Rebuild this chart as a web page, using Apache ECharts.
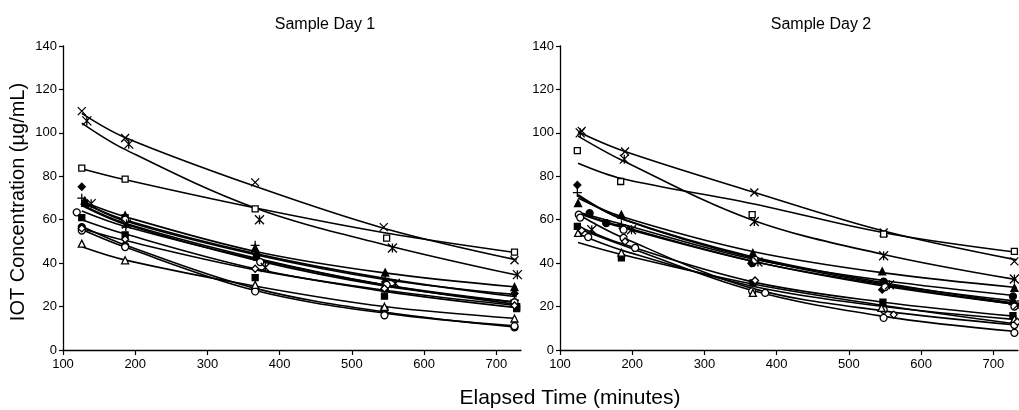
<!DOCTYPE html>
<html>
<head>
<meta charset="utf-8">
<script src="https://cdn.jsdelivr.net/npm/echarts@6/dist/echarts.min.js"></script>
<style>
html,body{margin:0;padding:0;background:#fff;}
#chart{width:1019px;height:410px;}
</style>
</head>
<body>
<div id="chart"></div>
<script>
// ---------- tick labels ----------
const X_TICKS = [100, 200, 300, 400, 500, 600, 700];
const Y_TICKS = [0, 20, 40, 60, 80, 100, 120, 140];

// ---------- fitted-curve sample times (minutes) ----------
const D1_FIT_T = [126, 185, 365, 545, 728];
const D2_FIT_T = [125, 185, 365, 548, 732];

// ---------- Sample Day 1: observed points [minutes, µg/mL] and fitted curve values ----------
const d1Cross = [[126,110],[186,97.6],[366,77.2],[544,56.6],[725,41.3]];
const d1CrossFit = [109, 98, 75.5, 56, 41.5];
const d1Star = [[133,105.5],[191,94.8],[372,60],[556,47],[729,34.7]];
const d1StarFit = [104.5, 92.5, 65.5, 48.5, 34.5];
const d1OpenSq = [[126,83.8],[186,78.7],[366,65],[548,51.5],[725,45.1]];
const d1OpenSqFit = [83.5, 78.5, 65.5, 54, 44.8];
const d1FillTri = [[130,68.8],[186,62],[366,47],[546,35.7],[725,29]];
const d1FillTriFit = [68.5, 61.5, 45.5, 35.5, 29];
const d1Plus = [[126,69.9],[187,56.6],[366,48.2],[546,33],[725,23]];
const d1PlusFit = [68, 60, 44.5, 33, 24.5];
const d1FillDia = [[126,75.2],[186,59],[368,44],[546,31.3],[725,26]];
const d1FillDiaFit = [68.5, 59.5, 44, 32.5, 25.5];
const d1FillSqA = [[130,67.5],[186,61],[368,42.8],[546,28.3],[728,20]];
const d1FillSqAFit = [67, 58.5, 42.5, 30, 21];
const d1OpenCirA = [[119,63.4],[186,60],[373,40.5],[548,30],[725,22]];
const d1OpenCirAFit = [64, 57, 42, 30, 22];
const d1FillSqB = [[126,61],[186,53],[366,33.3],[545,24.8],[728,19.1]];
const d1FillSqBFit = [60, 53.5, 37.5, 27, 19.5];
const d1StarB = [[139,67.4],[188,58],[380,38],[560,30.6],[737,22.9]];
const d1StarBFit = [66.5, 58, 41.5, 29.5, 22];
const d1FillCir = [[126,56.6],[186,48],[366,27.8],[545,18.7],[725,10.4]];
const d1FillCirFit = [57, 48.5, 28.5, 17.5, 10.5];
const d1OpenCirB = [[126,55],[186,47.4],[366,27],[545,16],[725,11]];
const d1OpenCirBFit = [55.5, 47.5, 27.5, 17, 11];
const d1OpenTri = [[126,49],[186,41.3],[366,30],[545,19.9],[725,14.5]];
const d1OpenTriFit = [47.5, 41.5, 29.5, 20, 14.5];
const d1OpenDia = [[126,56],[186,51],[366,37.4],[545,28.3],[725,20.5]];
const d1OpenDiaFit = [56, 50.5, 37, 27.5, 20.5];

// ---------- Sample Day 2 ----------
const d2Cross = [[130,100.9],[190,91.4],[369,72.5],[548,54.1],[729,40.8]];
const d2CrossFit = [100.5, 92, 73, 54.8, 41.5];
const d2Star = [[128,100],[189,87.9],[369,59.2],[548,43.4],[729,32.7]];
const d2StarFit = [98.5, 87.5, 60, 44, 32.4];
const d2OpenSq = [[124,91.8],[184,77.6],[366,62.3],[548,53.4],[729,45.4]];
const d2OpenSqFit = [86, 79, 67.5, 54, 45];
const d2FillTri = [[125,67.6],[185,62.3],[367,44.7],[546,36.2],[729,28.6]];
const d2FillTriFit = [70, 61.5, 45.5, 35.5, 28.8];
const d2Plus = [[124,72.5],[185,57.7],[369,41.5],[548,30],[727,20.9]];
const d2PlusFit = [71, 60.5, 43, 31, 21.5];
const d2FillDia = [[124,76],[187,56],[365,40],[546,27.8],[727,22]];
const d2FillDiaFit = [71.5, 60.5, 42.5, 30.5, 22.5];
const d2FillCir = [[141,63],[164,58.4],[366,40],[548,31.5],[727,24.7]];
const d2FillCirFit = [63.5, 58, 42, 32, 25];
const d2OpenCirA = [[126,62.3],[188,55.4],[370,41.5],[550,29],[729,20]];
const d2OpenCirAFit = [63, 57, 41, 30, 21];
const d2FillSq = [[124,56.9],[185,42.4],[367,30.9],[547,22],[727,15.8]];
const d2FillSqFit = [57, 49, 31.5, 22, 15.5];
const d2StarB = [[144,55.4],[199,55.4],[374,40.5],[556,30],[734,20.9]];
const d2StarBFit = [63, 56.5, 41, 29.5, 21];
const d2OpenCirB = [[128,61],[188,51.6],[366,27],[548,18.5],[729,11.5]];
const d2OpenCirBFit = [62.5, 52, 28.5, 18, 11.5];
const d2OpenCirC = [[139,52],[204,47],[384,26.3],[548,14.8],[729,7.9]];
const d2OpenCirCFit = [56, 48.5, 27.5, 15.5, 8.5];
const d2OpenTri = [[125,53.9],[185,44.8],[367,26.3],[545,19.4],[729,14.3]];
const d2OpenTriFit = [53.5, 46, 29.5, 20, 14];
const d2OpenDia = [[130,55],[190,50],[370,32],[562,16.3],[733,13]];
const d2OpenDiaFit = [49.5, 44, 30.5, 20.5, 12];

// ---------- marker styles ----------
const MARKERS = {
  cross:    { symbol: 'path://M0,0L10,10M10,0L0,10', fill: 'none', size: 8 },
  star:     { symbol: 'path://M0,0L10,10M10,0L0,10M5,0L5,10', fill: 'none', size: 9 },
  plus:     { symbol: 'path://M5,0L5,10M0,5L10,5', fill: 'none', size: 9 },
  openSq:   { symbol: 'rect', fill: '#fff', size: 6 },
  fillSq:   { symbol: 'rect', fill: '#000', size: 6 },
  fillTri:  { symbol: 'triangle', fill: '#000', size: 7 },
  openTri:  { symbol: 'triangle', fill: '#fff', size: 7 },
  fillDia:  { symbol: 'diamond', fill: '#000', size: 7 },
  openDia:  { symbol: 'diamond', fill: '#fff', size: 7 },
  fillCir:  { symbol: 'circle', fill: '#000', size: 7 },
  openCir:  { symbol: 'circle', fill: '#fff', size: 7 }
};

const DAY1 = [
  [d1Cross, d1CrossFit, 'cross'], [d1Star, d1StarFit, 'star'], [d1OpenSq, d1OpenSqFit, 'openSq'],
  [d1FillTri, d1FillTriFit, 'fillTri'], [d1Plus, d1PlusFit, 'plus'], [d1FillDia, d1FillDiaFit, 'fillDia'],
  [d1FillSqA, d1FillSqAFit, 'fillSq'], [d1OpenCirA, d1OpenCirAFit, 'openCir'], [d1FillSqB, d1FillSqBFit, 'fillSq'],
  [d1StarB, d1StarBFit, 'star'], [d1FillCir, d1FillCirFit, 'fillCir'], [d1OpenCirB, d1OpenCirBFit, 'openCir'],
  [d1OpenTri, d1OpenTriFit, 'openTri'], [d1OpenDia, d1OpenDiaFit, 'openDia']
];
const DAY2 = [
  [d2Cross, d2CrossFit, 'cross'], [d2Star, d2StarFit, 'star'], [d2OpenSq, d2OpenSqFit, 'openSq'],
  [d2FillTri, d2FillTriFit, 'fillTri'], [d2Plus, d2PlusFit, 'plus'], [d2FillDia, d2FillDiaFit, 'fillDia'],
  [d2FillCir, d2FillCirFit, 'fillCir'], [d2OpenCirA, d2OpenCirAFit, 'openCir'], [d2FillSq, d2FillSqFit, 'fillSq'],
  [d2StarB, d2StarBFit, 'star'], [d2OpenCirB, d2OpenCirBFit, 'openCir'], [d2OpenCirC, d2OpenCirCFit, 'openCir'],
  [d2OpenTri, d2OpenTriFit, 'openTri'], [d2OpenDia, d2OpenDiaFit, 'openDia']
];

const FONT = '"Liberation Sans", Arial, sans-serif';

function buildSeries(day, fitT, idx) {
  const out = [];
  day.forEach(([pts, fit, mk]) => {
    out.push({
      type: 'line', xAxisIndex: idx, yAxisIndex: idx,
      data: fitT.map((t, k) => [t, fit[k]]),
      smooth: 0.35, symbol: 'none',
      lineStyle: { color: '#000', width: 1.6 }, z: 2, silent: true
    });
  });
  day.forEach(([pts, fit, mk]) => {
    const m = MARKERS[mk];
    out.push({
      type: 'scatter', xAxisIndex: idx, yAxisIndex: idx,
      data: pts, symbol: m.symbol, symbolSize: m.size,
      itemStyle: { color: m.fill, borderColor: '#000', borderWidth: 1.3, opacity: 1 },
      z: 3, silent: true
    });
  });
  return out;
}

function xAxisCfg(idx) {
  return {
    type: 'value', gridIndex: idx, min: 100, max: 734, interval: 100,
    axisLine: { show: true, onZero: false, lineStyle: { color: '#000', width: 1.3 } },
    axisTick: { show: true, length: 5, customValues: X_TICKS, lineStyle: { color: '#000', width: 1.2 } },
    axisLabel: { customValues: X_TICKS, color: '#000', fontSize: 13, fontFamily: FONT, margin: 8 },
    splitLine: { show: false }
  };
}
function yAxisCfg(idx) {
  return {
    type: 'value', gridIndex: idx, min: 0, max: 140, interval: 20,
    axisLine: { show: true, lineStyle: { color: '#000', width: 1.3 } },
    axisTick: { show: true, length: 4, customValues: Y_TICKS, lineStyle: { color: '#000', width: 1.2 } },
    axisLabel: { customValues: Y_TICKS, color: '#000', fontSize: 13, fontFamily: FONT, margin: 6 },
    splitLine: { show: false }
  };
}

function txt(x, y, text, size, rot) {
  return {
    type: 'text', x: x, y: y, rotation: rot || 0,
    style: {
      text: text, fill: '#000', font: size + 'px ' + FONT,
      align: 'center', verticalAlign: 'middle', textAlign: 'center', textVerticalAlign: 'middle'
    }
  };
}

const chart = echarts.init(document.getElementById('chart'), null, { renderer: 'canvas' });
chart.setOption({
  animation: false,
  backgroundColor: '#fff',
  textStyle: { fontFamily: FONT },
  grid: [
    { left: 63, top: 46, width: 458, height: 304 },
    { left: 560, top: 46, width: 458, height: 304 }
  ],
  xAxis: [xAxisCfg(0), xAxisCfg(1)],
  yAxis: [yAxisCfg(0), yAxisCfg(1)],
  graphic: [
    txt(325, 25, 'Sample Day 1', 16),
    txt(821, 25, 'Sample Day 2', 16),
    txt(570, 398, 'Elapsed Time (minutes)', 21),
    txt(18, 202, 'IOT Concentration (µg/mL)', 20, Math.PI / 2)
  ],
  series: [].concat(buildSeries(DAY1, D1_FIT_T, 0), buildSeries(DAY2, D2_FIT_T, 1))
});
</script>
</body>
</html>
